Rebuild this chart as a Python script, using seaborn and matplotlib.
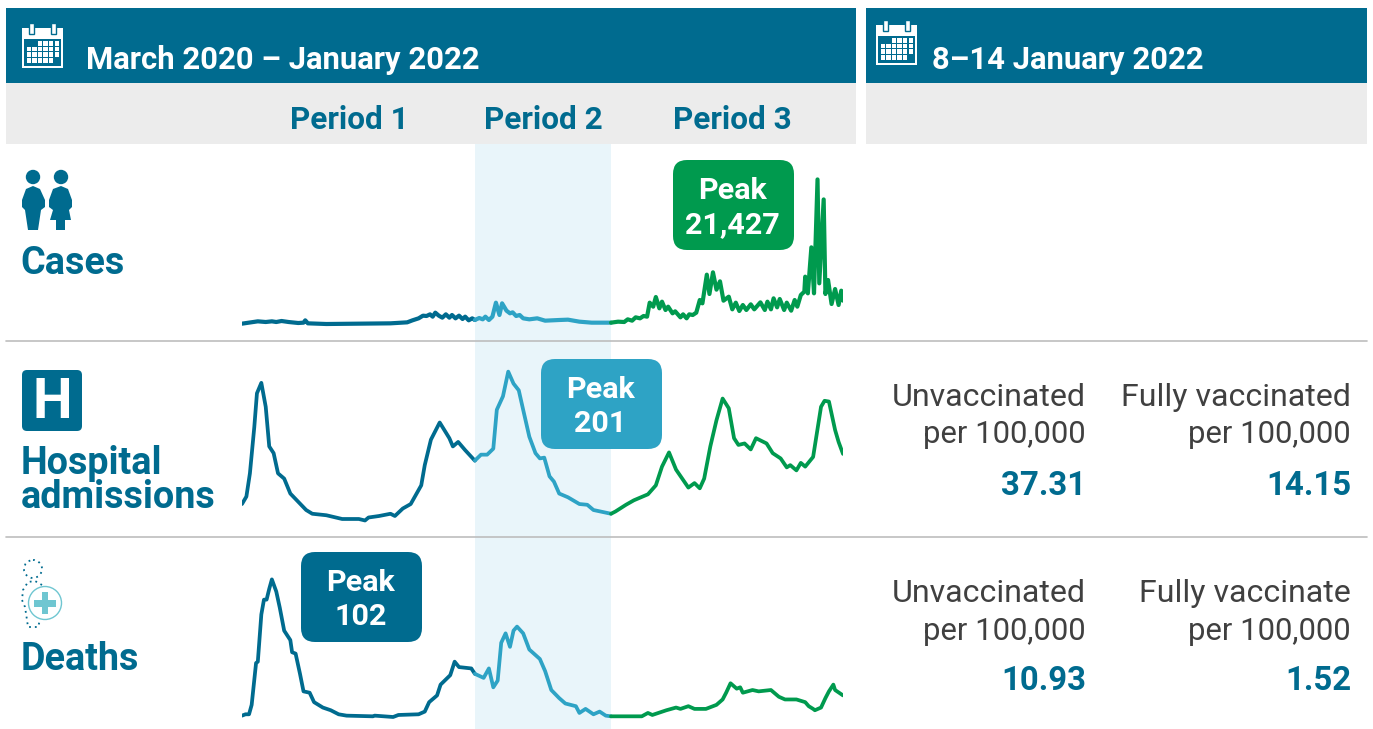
# -*- coding: utf-8 -*-
# Cases, hospital admissions and deaths, March 2020 - January 2022
import pandas as pd
import seaborn as sns
import matplotlib.pyplot as plt
from matplotlib.patches import Rectangle, FancyBboxPatch, Circle, Polygon

#%% data (days since 1 March 2020)

period_names = ["Period 1", "Period 2", "Period 3"]
period_edges = [0, 265, 420, 684]

cases_day = [0, 18, 27, 34, 39, 45, 53, 64, 70, 72, 75, 96, 169, 188, 194, 201, 206, 210, 214, 217,
             220, 224, 228, 232, 236, 239, 243, 247, 251, 254, 258, 262, 265, 270, 274, 277, 281, 285, 289, 293,
             296, 301, 305, 308, 312, 316, 320, 327, 336, 345, 361, 371, 384, 398, 420, 428, 435, 439, 444, 448,
             453, 457, 461, 464, 468, 471, 475, 478, 482, 485, 490, 493, 499, 502, 506, 509, 513, 517, 521, 524,
             529, 532, 536, 540, 544, 548, 554, 558, 562, 566, 570, 574, 579, 583, 590, 595, 598, 602, 605, 609,
             612, 617, 620, 625, 629, 632, 636, 640, 641, 644, 648, 651, 655, 657, 662, 664, 667, 671, 675, 679,
             682, 684]
cases_value = [50, 395, 296, 395, 296, 445, 296, 148, 198, 543, 99, 0, 99, 247, 543, 840, 1235, 1186, 1433, 1087,
               1679, 1235, 939, 1433, 939, 1334, 840, 1235, 741, 1087, 543, 840, 593, 889, 692, 1087, 593, 1087, 3162, 1334,
               3062, 1976, 1581, 1729, 1186, 1334, 840, 692, 840, 494, 593, 642, 346, 198, 198, 346, 296, 692, 494, 988,
               840, 1186, 1087, 3162, 2569, 4001, 2322, 3310, 2075, 2569, 1581, 1877, 988, 1433, 840, 1433, 1334, 1680, 3557, 3062,
               7311, 4446, 7657, 5088, 6323, 3458, 4051, 2174, 3162, 1927, 2816, 2075, 2915, 2174, 3211, 2075, 3310, 2174, 3804, 2470,
               3705, 2075, 3162, 1976, 3557, 2569, 4298, 4792, 7015, 4545, 11362, 4545, 21427, 6027, 18463, 4446, 6521, 2964, 5187, 2816,
               4940, 3458]

admissions_day = [0, 5, 9, 14, 17, 22, 27, 31, 36, 41, 48, 55, 64, 73, 80, 96, 114, 133, 140, 144,
                  156, 169, 174, 183, 192, 204, 208, 215, 225, 236, 240, 246, 254, 265, 272, 279, 286, 290, 297, 303,
                  309, 315, 320, 327, 334, 339, 344, 350, 355, 361, 371, 384, 393, 400, 420, 425, 437, 446, 462, 471,
                  478, 486, 494, 501, 508, 515, 521, 526, 533, 540, 547, 554, 560, 565, 572, 579, 585, 597, 604, 613,
                  620, 624, 631, 636, 641, 650, 659, 663, 668, 675, 679, 684]
admissions_value = [24, 34, 65, 127, 172, 186, 154, 101, 92, 65, 58, 38, 27, 16, 11, 9, 4, 4, 2, 6,
                    8, 11, 8, 18, 24, 49, 76, 110, 133, 112, 101, 107, 96, 82, 90, 90, 98, 150, 168, 201,
                    185, 176, 150, 114, 92, 85, 86, 61, 54, 38, 33, 24, 23, 16, 11, 14, 23, 29, 37, 49,
                    74, 93, 70, 58, 46, 52, 45, 58, 101, 136, 165, 152, 112, 103, 105, 97, 112, 105, 92, 85,
                    73, 76, 69, 79, 74, 87, 154, 162, 161, 123, 107, 91]

deaths_day = [0, 4, 8, 11, 16, 18, 22, 25, 28, 31, 34, 39, 43, 48, 55, 57, 61, 66, 70, 77,
              82, 92, 101, 110, 119, 149, 151, 172, 178, 201, 208, 213, 222, 226, 237, 242, 247, 261, 265, 275,
              281, 286, 291, 295, 300, 305, 309, 313, 320, 327, 339, 345, 352, 361, 368, 380, 384, 391, 400, 407,
              414, 420, 455, 462, 467, 483, 494, 499, 508, 515, 528, 540, 547, 551, 556, 563, 567, 570, 581, 588,
              602, 611, 618, 631, 641, 645, 650, 652, 659, 664, 668, 673, 675, 684]
deaths_value = [1, 2, 2, 9, 40, 41, 76, 87, 87, 95, 102, 93, 81, 64, 57, 48, 47, 32, 19, 18,
                11, 7, 5, 2, 1, 0.5, 1, 0, 1.5, 2, 4, 11, 16, 24, 31, 41, 37, 36, 32, 29,
                36, 22, 27, 55, 62, 52, 64, 67, 62, 50, 43, 34, 20, 14, 10, 8, 3, 6, 2, 4,
                1, 0.5, 0.5, 3, 1.5, 5, 7, 6, 8, 6, 6, 9, 13, 18, 25, 21, 22, 18, 20, 19,
                20, 15, 13, 13, 11, 8, 6, 5, 7, 14, 19, 24, 20, 16]

vacc_labels = ["Unvaccinated", "Fully vaccinated"]
deaths_labels = ["Unvaccinated", "Fully vaccinate"]
rate_label = "per 100,000"
admissions_rates = ["37.31", "14.15"]
deaths_rates = ["10.93", "1.52"]

#%% colours and page size

W, H = 1373, 729
DARK = "#006b8f"
MID = "#2ea3c5"
GREEN = "#009a4e"
GREY_BAND = "#ececec"
SHADE = "#e9f5fa"
RULE = "#bdbdbd"
TXT = "#404040"
FONT = "Roboto"

sns.set_style("white")
plt.rcParams["font.family"] = [FONT, "DejaVu Sans"]
pal = dict(zip(period_names, [DARK, MID, GREEN]))


def px(size):
    return size * 0.72


def long_frame(day, value):
    # each period keeps the boundary day so that the coloured pieces join up
    df = pd.DataFrame({"day": day, "value": value})
    parts = []
    for i, name in enumerate(period_names):
        part = df[(df["day"] >= period_edges[i]) & (df["day"] <= period_edges[i + 1])].copy()
        part["period"] = name
        parts.append(part)
    return pd.concat(parts, ignore_index=True)


def chart_axes(top, bottom):
    ax = fig.add_axes([242 / W, 1 - bottom / H, 601 / W, (bottom - top) / H], zorder=2)
    ax.patch.set_alpha(0)
    ax.set_xlim(0, 684)
    ax.axis("off")
    return ax


def calendar(a, x, y):
    a.add_patch(Rectangle((x, y), 41, 40, fc="white", ec="none"))
    a.add_patch(Rectangle((x + 2, y + 11), 37, 27, fc=DARK, ec="none"))
    for cx in (9, 31):
        a.add_patch(Rectangle((x + cx - 2, y - 5), 5, 11, fc="white", ec=DARK, lw=1))
    for r in range(4):
        for c in range(6):
            if r == 0 and c < 2:
                continue
            if r == 3 and c == 5:
                continue
            a.add_patch(Rectangle((x + 4.5 + c * 5.6, y + 13 + r * 5.7), 4.5, 4.6, fc="white", ec="none"))


#%% page furniture, drawn in pixel coordinates

fig = plt.figure(figsize=(W / 100, H / 100), dpi=100)

shade_ax = fig.add_axes([242 / W, 0, 601 / W, (H - 144) / H], zorder=0)
shade_ax.set_xlim(0, 684)
shade_ax.axis("off")
shade_ax.axvspan(period_edges[1], period_edges[2], color=SHADE, lw=0)

page = fig.add_axes([0, 0, 1, 1], zorder=1)
page.set_xlim(0, W)
page.set_ylim(H, 0)
page.axis("off")
page.patch.set_alpha(0)

for x0, x1 in [(6, 856), (866, 1367)]:
    page.add_patch(Rectangle((x0, 8), x1 - x0, 75, fc=DARK, ec="none"))
    page.add_patch(Rectangle((x0, 83), x1 - x0, 61, fc=GREY_BAND, ec="none"))
page.plot([6, 1367], [341, 341], color=RULE, lw=1.2)
page.plot([6, 1367], [537, 537], color=RULE, lw=1.2)

calendar(page, 22, 28)
calendar(page, 876, 25)

page.text(86, 60, "March 2020 – January 2022", color="white", fontsize=px(31), fontweight="bold", va="center")
page.text(932, 60, "8–14 January 2022", color="white", fontsize=px(31), fontweight="bold", va="center")
for name, cx in zip(period_names, [349, 543, 732]):
    page.text(cx, 120, name, color=DARK, fontsize=px(31.5), fontweight="bold", ha="center", va="center")

# people icon
page.add_patch(Circle((33, 177), 7.2, fc=DARK, ec="none"))
page.add_patch(Circle((61, 177), 7.2, fc=DARK, ec="none"))
page.add_patch(Polygon([(22, 200), (26, 189), (33, 186), (40, 189), (45, 200), (45, 207), (41, 210), (38, 230),
                        (28, 230), (25, 210), (22, 207)], fc=DARK, ec="none"))
page.add_patch(Polygon([(49, 200), (53, 189), (61, 186), (68, 189), (72, 200), (72, 207), (69, 210), (71, 220),
                        (65, 220), (65, 230), (56, 230), (56, 220), (50, 220), (53, 210), (49, 207)], fc=DARK, ec="none"))

# hospital icon
page.add_patch(FancyBboxPatch((25, 373), 54, 55, boxstyle="round,pad=3,rounding_size=5", fc=DARK, ec="none"))
page.text(52, 403, "H", color="white", fontsize=px(56), fontweight="bold", ha="center", va="center")

# deaths icon
page.add_patch(Circle((33, 569), 9, fc="none", ec=DARK, lw=1.3, ls=(0, (1, 2.2))))
page.plot([42, 35, 28, 23, 22, 25, 27, 28, 38, 40], [585, 581, 582, 590, 600, 607, 620, 627, 627, 620],
          color=DARK, lw=1.3, ls=(0, (1, 2.2)))
page.add_patch(Circle((45, 603), 16.5, fc="white", ec="#6fc6d1", lw=1))
page.add_patch(Rectangle((34, 600), 22, 6.5, fc="#6fc6d1", ec="none"))
page.add_patch(Rectangle((41.8, 592), 6.5, 22, fc="#6fc6d1", ec="none"))

# row titles
for label, y in [("Cases", 263), ("Hospital", 463), ("admissions", 497), ("Deaths", 659)]:
    page.text(20.5, y, label, color=DARK, fontsize=px(37.8), fontweight="bold", va="center")

# peak boxes
for x0, y0, col, peak in [(673, 160, GREEN, "21,427"), (541, 359, MID, "201"), (301, 552, DARK, "102")]:
    page.add_patch(FancyBboxPatch((x0 + 14, y0 + 14), 93, 62, boxstyle="round,pad=14,rounding_size=14", fc=col, ec="none"))
    page.text(x0 + 59.5, y0 + 31, "Peak", color="white", fontsize=px(30.5), fontweight="bold", ha="center", va="center")
    page.text(x0 + 59.5, y0 + 65, peak, color="white", fontsize=px(30.5), fontweight="bold", ha="center", va="center")

# vaccination columns
for labels, rates, ys in [(vacc_labels, admissions_rates, (397, 434, 486)), (deaths_labels, deaths_rates, (593, 631, 681))]:
    for label, rate, right in zip(labels, rates, [1086, 1351]):
        page.text(right, ys[0], label, color=TXT, fontsize=px(32.2), ha="right", va="center")
        page.text(right, ys[1], rate_label, color=TXT, fontsize=px(31), ha="right", va="center")
        page.text(right, ys[2], rate, color=DARK, fontsize=px(33), fontweight="bold", ha="right", va="center")

#%% the three lines

ax1 = chart_axes(150, 340)
sns.lineplot(data=long_frame(cases_day, cases_value), x="day", y="value", hue="period", palette=pal,
             estimator=None, sort=False, linewidth=3.0, legend=False, ax=ax1)
ax1.set_ylim(-2371, 25787)
ax1.axis("off")

ax2 = chart_axes(345, 535)
sns.lineplot(data=long_frame(admissions_day, admissions_value), x="day", y="value", hue="period", palette=pal,
             estimator=None, sort=False, linewidth=2.7, legend=False, ax=ax2)
ax2.set_ylim(-17.4, 236.6)
ax2.axis("off")

ax3 = chart_axes(545, 729)
sns.lineplot(data=long_frame(deaths_day, deaths_value), x="day", y="value", hue="period", palette=pal,
             estimator=None, sort=False, linewidth=2.7, legend=False, ax=ax3)
ax3.set_ylim(-8.9, 127.5)
ax3.axis("off")

plt.savefig("out.png", dpi=100)
